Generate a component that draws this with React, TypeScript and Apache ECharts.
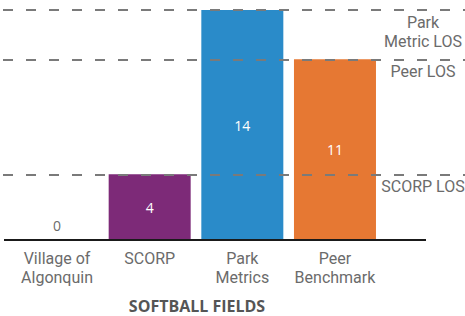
import React, { useEffect, useRef } from "react";
import * as echarts from "echarts";

const categories = ["Village of\nAlgonquin", "SCORP", "Park\nMetrics", "Peer\nBenchmark"];
const values = [0, 4, 14, 11];
const barColors = ["#7d2a78", "#7d2a78", "#2a8bc9", "#e67833"];
const losValues = [14, 11, 4];
const losLabels = ["Park\nMetric LOS", "Peer LOS", "SCORP LOS"];
const chartTitle = "SOFTBALL FIELDS";

const FONT = "'Open Sans', 'Noto Sans', sans-serif";
const FONT2 = "Roboto, 'Open Sans', sans-serif";

export default function App() {
  const ref = useRef<HTMLDivElement>(null);
  useEffect(() => {
    if (!ref.current) return;
    const chart = echarts.init(ref.current, undefined, { renderer: "svg" });
    const lastIdx = categories.length - 1;
    chart.setOption({
      animation: false,
      backgroundColor: "#ffffff",
      grid: { left: 10.7, right: 83.7, top: 10, bottom: 76, containLabel: false },
      xAxis: {
        type: "category",
        data: categories,
        axisLine: { show: false },
        axisTick: { show: false },
        axisLabel: {
          color: "#6b6b6b",
          fontSize: 16,
          lineHeight: 19,
          fontFamily: FONT2,
          margin: 9,
          interval: 0,
        },
      },
      yAxis: {
        type: "value",
        min: 0,
        max: 14,
        show: false,
        splitLine: { show: false },
      },
      series: [
        {
          type: "bar",
          barWidth: 82,
          data: values.map((v, i) => ({
            value: v,
            itemStyle: { color: barColors[i] },
            label: {
              show: true,
              position: v === 0 ? "top" : "inside",
              distance: 8,
              color: v === 0 ? "#6b6b6b" : "#ffffff",
              fontSize: 14,
              fontFamily: FONT,
            },
          })),
          markLine: {
            silent: true,
            symbol: "none",
            label: { show: false },
            data: [
              ...losValues.map((v) => [
                { coord: [0, v], x: 3, lineStyle: { color: "#7a7a7a", width: 2, type: [10, 13] } },
                { coord: [lastIdx, v], x: 465 },
              ]),
              [
                { coord: [0, 0], x: 4, lineStyle: { color: "#1a1a1a", width: 2, type: "solid" } },
                { coord: [lastIdx, 0], x: 426 },
              ],
            ],
          },
        },
      ],
    });
    const graphics: any[] = losValues.map((v, i) => {
      const y = chart.convertToPixel({ yAxisIndex: 0 }, v) as number;
      return {
        type: "text",
        x: 423,
        y: y + 3,
        style: {
          text: losLabels[i],
          fill: "#6b6b6b",
          font: `16px ${FONT2}`,
          lineHeight: 19,
          align: "center",
          verticalAlign: "top",
        },
      };
    });
    graphics.push({
      type: "text",
      x: 197,
      y: 298,
      style: {
        text: chartTitle,
        fill: "#555555",
        font: `bold 16px ${FONT}`,
        align: "center",
        verticalAlign: "top",
      },
    });
    chart.setOption({ graphic: graphics });
    return () => chart.dispose();
  }, []);
  return <div ref={ref} style={{ width: 465, height: 316, position: "absolute", left: 0, top: 0 }} />;
}
